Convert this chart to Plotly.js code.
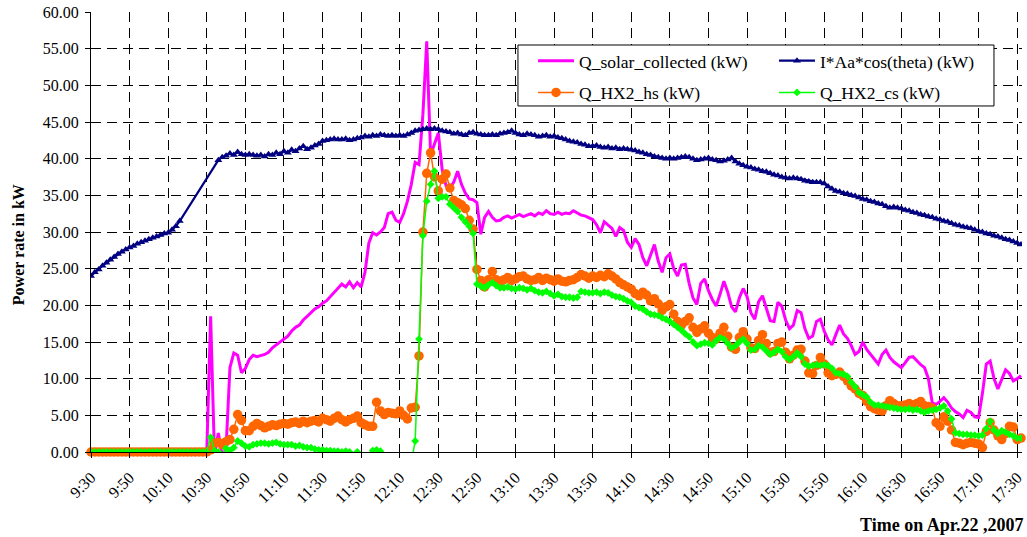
<!DOCTYPE html>
<html>
<head>
<meta charset="utf-8">
<script src="https://cdn.plot.ly/plotly-3.0.1.min.js"></script>
<style>html,body{margin:0;padding:0;background:#fff;}#chart{width:1027px;height:537px;}</style>
</head>
<body>
<div id="chart"></div>
<script>
// Sampling: one value every 2 minutes, starting 9:30 (minute 0) on Apr.22, 2007
const STEP_MIN = 2;

// X tick labels (every 20 minutes)
const tickLabels = ["9:30","9:50","10:10","10:30","10:50","11:10","11:30","11:50","12:10","12:30","12:50","13:10","13:30","13:50","14:10","14:30","14:50","15:10","15:30","15:50","16:10","16:30","16:50","17:10","17:30"];
const TICK_STEP_MIN = 20;

const seriesNames = ["Q_solar_collected (kW)", "I*Aa*cos(theta) (kW)", "Q_HX2_hs (kW)", "Q_HX2_cs (kW)"];

// Q_solar_collected (kW)
const qSolar = [
  0,0,0,0,0,0,0,0,0,0,
  0,0,0,0,0,0,0,0,0,0,
  0,0,0,0,0,0,0,0,0,0,
  0,18.5,-0.5,2.6,-0.5,0.5,11.5,13.5,13.2,10.8,
  11.4,12.6,13.2,13.0,13.1,13.3,13.6,14.2,14.6,15.0,
  15.5,15.8,16.5,17.0,17.3,18.0,18.5,19.0,19.5,19.8,
  20.3,20.6,21.2,21.7,22.3,22.9,22.5,23.2,22.4,23.1,
  22.5,24.5,28.5,29.9,29.6,30.0,30.6,32.5,32.7,31.6,
  31.3,32.5,34.2,36.5,39.5,39.2,46.0,56.0,40.5,42.0,
  43.5,38.5,36.3,36.0,36.8,38.3,36.5,35.3,34.5,34.4,
  34.0,29.7,32.0,32.8,32.0,31.5,31.6,32.0,32.2,31.9,
  32.2,32.4,32.1,32.3,32.5,32.2,32.6,32.4,32.9,32.5,
  32.4,32.7,32.4,32.6,32.5,32.9,32.6,32.3,32.2,31.9,
  31.7,31.0,29.9,31.4,30.9,30.5,29.4,30.6,30.2,28.6,
  27.9,29.1,28.3,26.5,25.4,27.0,28.3,26.0,24.5,26.5,
  27.0,25.0,24.0,25.5,25.6,23.0,21.0,20.1,23.0,23.6,
  22.0,20.8,19.9,21.5,23.3,21.8,19.8,19.1,21.0,22.3,
  21.2,19.0,18.1,20.5,21.3,19.6,17.9,17.8,20.4,19.9,
  18.0,16.8,17.3,19.3,19.0,16.8,15.5,15.8,17.8,18.1,
  16.5,15.3,14.6,16.0,17.3,16.1,15.5,14.5,13.3,13.7,
  15.0,14.0,13.3,12.6,12.0,13.3,13.9,12.9,12.3,11.9,
  11.5,12.2,12.9,13.0,12.4,11.9,11.5,10.0,6.7,6.5,
  6.9,7.4,6.8,6.0,5.5,5.2,4.7,5.7,5.4,4.8,
  4.7,8.0,12.0,12.4,10.0,8.6,9.9,11.2,10.7,9.7,
  10.0,10.4
];

// I*Aa*cos(theta) (kW)  (null = no reading)
const qIncident = [
  24.0,24.5,24.9,25.4,25.8,26.2,26.6,27.0,27.3,27.6,
  27.9,28.1,28.4,28.6,28.8,29.0,29.2,29.4,29.6,29.8,
  29.9,30.3,30.8,31.5,null,null,null,null,null,null,
  null,null,null,39.8,40.2,40.4,40.7,40.5,40.9,40.6,
  40.5,40.6,40.5,40.4,40.5,40.3,40.6,40.5,40.8,40.6,
  41.0,40.8,41.2,41.0,41.4,41.7,41.3,41.5,41.8,42.0,
  42.4,42.5,42.6,42.7,42.6,42.6,42.7,42.5,42.6,42.8,
  42.9,43.1,43.0,43.2,43.1,43.3,43.2,43.1,43.2,43.1,
  43.2,43.1,43.3,43.5,43.8,43.9,44.0,44.1,44.0,44.1,
  44.0,43.8,43.7,43.6,43.4,43.5,43.3,43.2,43.5,43.6,
  43.4,43.3,43.2,43.2,43.3,43.2,43.4,43.5,43.6,43.8,
  43.5,43.3,43.2,43.4,43.3,43.2,43.0,43.1,43.2,43.0,
  43.1,42.9,42.8,42.6,42.4,42.3,42.2,42.0,41.9,41.7,
  41.7,41.8,41.6,41.5,41.6,41.4,41.5,41.3,41.4,41.3,
  41.2,41.1,40.9,40.8,40.6,40.5,40.3,40.2,40.1,40.0,
  40.1,40.0,40.1,40.2,40.3,40.2,40.0,39.8,39.9,40.0,
  40.1,39.9,39.8,39.6,39.7,39.9,40.1,39.6,39.3,39.1,
  38.9,38.8,38.6,38.5,38.3,38.2,38.0,37.8,37.7,37.5,
  37.4,37.3,37.4,37.3,37.2,37.0,36.9,36.8,36.8,36.8,
  36.6,36.2,35.9,35.6,35.5,35.3,35.2,35.0,34.9,34.7,
  34.5,34.4,34.2,34.1,33.9,33.8,33.5,33.3,33.4,33.3,
  33.2,33.0,32.9,32.7,32.6,32.4,32.3,32.1,32.0,31.8,
  31.7,31.5,31.4,31.2,31.0,30.9,30.7,30.6,30.5,30.3,
  30.1,30.0,29.8,29.7,29.5,29.4,29.2,29.0,28.9,28.7,
  28.5,28.3
];

// Q_HX2_hs (kW)
const qHs = [
  0,0,0,0,0,0,0,0,0,0,
  0,0,0,0,0,0,0,0,0,0,
  0,0,0,0,0,0,0,0,0,0,
  0,0.3,1.2,1.3,1.0,1.4,1.7,3.1,5.1,4.3,
  2.9,2.9,3.5,3.9,3.6,3.3,3.5,3.7,3.6,3.8,
  3.9,3.8,4.0,4.1,3.9,4.2,4.0,4.2,4.3,4.1,
  4.6,4.4,4.2,4.6,4.9,4.4,4.1,4.4,4.6,4.9,
  4.0,3.7,3.5,3.5,6.8,5.6,5.1,5.4,5.3,5.2,
  5.6,5.0,4.5,6.0,6.1,13.1,30.0,38.0,40.8,37.5,
  35.6,37.2,37.9,36.0,34.3,34.0,33.7,33.2,31.6,30.4,
  24.9,23.4,22.5,23.5,24.6,23.5,23.1,23.5,23.8,23.4,
  23.6,23.9,24.0,23.6,23.4,23.5,23.8,23.4,23.7,23.5,
  23.3,23.6,23.3,23.2,23.4,23.5,23.8,24.2,24.0,23.7,
  24.0,23.8,24.1,23.9,24.3,24.0,23.6,23.1,22.8,22.5,
  22.2,21.6,21.3,21.8,21.4,20.6,20.9,20.2,19.3,19.8,
  20.1,18.8,17.8,17.3,17.8,18.3,17.0,16.3,16.8,17.2,
  16.2,15.6,15.4,16.2,17.0,15.8,14.3,14.0,15.6,16.4,
  15.4,14.2,14.1,15.2,16.0,14.8,13.6,13.7,14.8,15.0,
  13.6,12.7,13.2,13.9,14.0,12.4,10.8,10.7,11.8,12.9,
  12.0,10.8,10.4,10.6,10.9,10.3,9.7,9.0,8.6,8.0,
  7.7,6.9,6.2,5.9,5.7,5.6,6.3,7.0,6.6,6.3,
  6.3,6.4,6.6,6.4,6.6,6.9,6.3,6.2,6.0,4.0,
  3.5,4.8,4.2,3.0,1.3,1.2,1.0,1.2,1.3,1.2,
  1.1,0.6,2.8,4.0,3.0,2.2,1.7,2.5,3.5,3.4,
  1.7,1.9
];

// Q_HX2_cs (kW)
const qCs = [
  0,0,0,0,0,0,0,0,0,0,
  0,0,0,0,0,0,0,0,0,0,
  0,0,0,0,0,0,0,0,0,0,
  0,2.0,0.2,0.0,-0.3,0.5,0.2,0.6,1.5,1.2,
  0.8,0.7,1.0,1.1,1.2,1.2,1.1,1.2,1.3,1.1,
  1.0,1.0,1.0,0.8,0.9,0.7,0.6,0.6,0.4,0.3,
  0.3,0.2,0.2,0.1,0.1,0.0,0.1,0.0,-0.1,0.0,
  -0.3,-1.0,-0.5,0.2,0.3,0.1,-0.5,-1.0,-1.0,-1.0,
  -1.0,-1.0,-1.0,-1.5,1.5,15.4,29.5,34.2,36.5,38.3,
  34.6,34.8,34.8,33.8,33.3,32.8,32.0,31.4,30.8,29.8,
  22.9,22.6,22.4,22.8,23.1,22.7,22.4,22.4,22.5,22.3,
  22.2,22.4,22.3,22.1,22.3,22.0,21.8,21.7,21.9,21.6,
  21.3,21.5,21.2,21.1,21.1,21.0,21.1,21.9,21.8,21.7,
  21.7,21.8,21.6,21.8,21.7,21.4,21.2,21.1,20.9,20.6,
  20.4,19.9,19.7,19.5,19.1,18.8,18.7,18.6,18.3,18.1,
  17.8,17.4,17.0,16.6,16.1,15.7,15.0,14.5,14.7,14.9,
  14.8,14.6,15.2,15.6,15.4,14.8,14.2,14.5,15.0,15.4,
  14.8,13.9,14.0,14.5,14.3,13.8,13.3,13.6,14.0,13.7,
  13.0,12.6,13.0,13.5,13.0,12.0,11.7,11.8,11.9,11.8,
  11.9,11.8,11.4,10.8,10.7,10.6,10.3,9.5,8.9,8.1,
  7.8,7.5,6.8,6.4,6.4,6.3,6.2,6.1,6.0,5.9,
  5.8,5.8,5.9,5.7,5.8,5.6,5.4,5.6,5.7,5.8,
  6.0,6.3,5.6,4.5,2.6,2.5,2.4,2.4,2.3,2.3,
  2.2,2.3,3.2,4.2,3.0,2.5,2.9,2.7,2.4,2.2,
  1.9,1.9
];

const minutes = qSolar.map((_, i) => i * STEP_MIN);
const tickVals = tickLabels.map((_, i) => i * TICK_STEP_MIN);

const FONT = "Liberation Serif, Times New Roman, serif";

const traces = [
  {x: minutes, y: qSolar, name: seriesNames[0], type: "scatter", mode: "lines",
   legend: "legend", legendgroup: "a",
   line: {color: "#FF00FF", width: 3}, cliponaxis: true},
  {x: minutes, y: qIncident, name: seriesNames[1], type: "scatter", mode: "lines+markers",
   legend: "legend2", legendgroup: "b",
   connectgaps: true, line: {color: "#000080", width: 2.2},
   marker: {symbol: "triangle-up", size: 7, color: "#000080"}, cliponaxis: true},
  {x: minutes, y: qHs, name: seriesNames[2], type: "scatter", mode: "lines+markers",
   legend: "legend", legendgroup: "c",
   line: {color: "#FF6600", width: 1.5},
   marker: {symbol: "circle", size: 9.5, color: "#FF6600"}, cliponaxis: false},
  {x: minutes, y: qCs, name: seriesNames[3], type: "scatter", mode: "lines+markers",
   legend: "legend2", legendgroup: "d",
   line: {color: "#00FF00", width: 1.5},
   marker: {symbol: "diamond", size: 6, color: "#00FF00"}, cliponaxis: true}
];

const legendCommon = {
  orientation: "v", xanchor: "left", yanchor: "top",
  bgcolor: "rgba(0,0,0,0)", borderwidth: 0,
  font: {family: FONT, size: 17.5, color: "#000"},
  itemwidth: 36, tracegroupgap: 6, traceorder: "grouped"
};

const layout = {
  width: 1027, height: 537,
  margin: {l: 91, r: 5, t: 12, b: 85},
  paper_bgcolor: "#fff", plot_bgcolor: "#fff",
  font: {family: FONT, size: 16, color: "#000"},
  showlegend: true,
  legend: Object.assign({}, legendCommon, {x: 0.4748, y: 0.930}),
  legend2: Object.assign({}, legendCommon, {x: 0.7336, y: 0.930}),
  xaxis: {
    range: [0, 482.5], tickmode: "array", tickvals: tickVals, ticktext: tickLabels,
    tickangle: -45, ticks: "outside", ticklen: 5, tickcolor: "#000",
    ticklabelstandoff: 4,
    showline: true, linecolor: "#000", linewidth: 1,
    showgrid: true, gridcolor: "#000", gridwidth: 1, griddash: "10px,6px",
    zeroline: false, tickfont: {family: FONT, size: 16, color: "#000"}
  },
  yaxis: {
    range: [0, 60], dtick: 5, tick0: 0, tickformat: ".2f",
    ticks: "outside", ticklen: 5, tickcolor: "#000",
    ticklabelstandoff: 3,
    showline: true, linecolor: "#000", linewidth: 1,
    showgrid: true, gridcolor: "#000", gridwidth: 1, griddash: "10px,6px",
    zeroline: false, tickfont: {family: FONT, size: 16, color: "#000"}
  },
  shapes: [
    {type: "rect", xref: "paper", yref: "paper", x0: 0.4586, x1: 0.9699, y0: 0.7864, y1: 0.925,
     layer: "above", fillcolor: "#fff", line: {color: "#000", width: 1}}
  ],
  annotations: [
    {text: "<b>Power rate in kW</b>", xref: "paper", yref: "paper", x: 0, y: 0.47,
     xanchor: "center", yanchor: "middle", xshift: -73, textangle: -90, showarrow: false,
     font: {family: FONT, size: 16, color: "#000"}},
    {text: "<b>Time on Apr.22 ,2007</b>", xref: "paper", yref: "paper", x: 1, y: 0,
     xanchor: "right", yanchor: "middle", xshift: 4, yshift: -73, showarrow: false,
     font: {family: FONT, size: 18, color: "#000"}}
  ]
};

Plotly.newPlot("chart", traces, layout, {displayModeBar: false, staticPlot: true});
</script>
</body>
</html>
